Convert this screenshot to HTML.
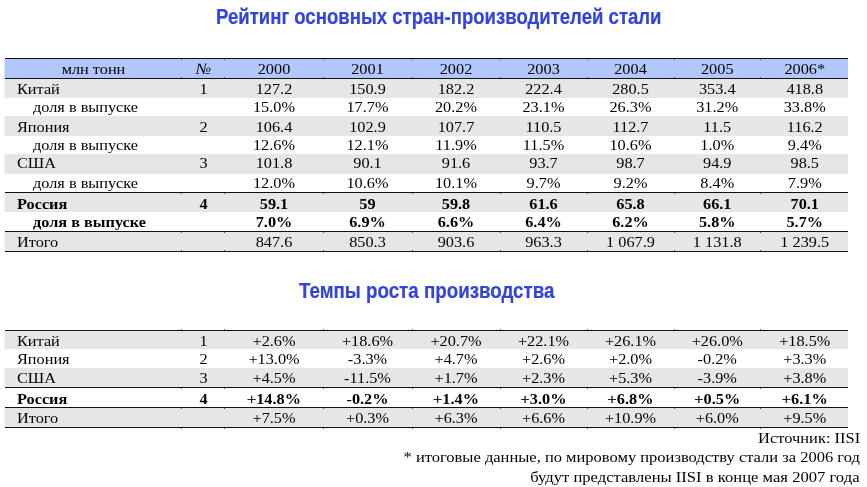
<!DOCTYPE html>
<html lang="ru"><head><meta charset="utf-8"><title>Рейтинг основных стран-производителей стали</title>
<style>
html,body{margin:0;padding:0;background:#fff;}
body{width:867px;height:487px;position:relative;overflow:hidden;font-family:"Liberation Serif","DejaVu Serif",serif;font-size:15.5px;color:#000;}
#w{position:absolute;left:0;top:0;width:867px;height:487px;will-change:transform;}
.bg{position:absolute;left:4.7px;width:843.2px;}
.r{position:absolute;left:5px;width:843px;height:18px;line-height:18px;white-space:nowrap;}
.r.b{font-weight:bold;}
.r em{font-style:italic;}
.r i{font-style:normal;font-weight:normal;-webkit-text-stroke:0.3px #000;}
.c{position:absolute;top:0;text-align:center;transform:scaleX(1.05);transform-origin:50% 50%;}
.c.l{text-align:left;transform-origin:0 50%;}
.ln{position:absolute;left:4.7px;width:843.2px;background:#111;}
.tk{position:absolute;width:1px;height:1px;background:rgba(0,0,0,.6);}
.h{position:absolute;white-space:nowrap;font-family:"Liberation Sans","DejaVu Sans",sans-serif;font-weight:bold;font-size:22.2px;line-height:24px;color:#3344dd;-webkit-text-stroke:0.2px #3344dd;transform-origin:0 0;}
.f{position:absolute;right:7px;white-space:nowrap;text-align:right;line-height:19.5px;transform:scaleX(1.062);transform-origin:100% 50%;}
</style></head><body><div id="w">
<div class="h" id="h1" style="left:215.9px;top:4.5px;transform:scaleX(0.8368)">Рейтинг основных стран-производителей стали</div>
<div class="h" id="h2" style="left:299.2px;top:278.6px;transform:scaleX(0.8444)">Темпы роста производства</div>
<div class="bg" style="top:58.5px;height:20.0px;background:#b3c7ff;box-shadow:-1px 0 0 #dbe4ff"></div>
<div class="bg" style="top:78.5px;height:19.1px;background:#e6e6e6;box-shadow:-1px 0 0 #f3f3f3"></div>
<div class="bg" style="top:116.4px;height:19.5px;background:#e6e6e6;box-shadow:-1px 0 0 #f3f3f3"></div>
<div class="bg" style="top:154px;height:20px;background:#e6e6e6;box-shadow:-1px 0 0 #f3f3f3"></div>
<div class="bg" style="top:192.5px;height:19.5px;background:#e6e6e6;box-shadow:-1px 0 0 #f3f3f3"></div>
<div class="bg" style="top:231.5px;height:20.0px;background:#e6e6e6;box-shadow:-1px 0 0 #f3f3f3"></div>
<div class="bg" style="top:330.5px;height:18.9px;background:#e6e6e6;box-shadow:-1px 0 0 #f3f3f3"></div>
<div class="bg" style="top:368.4px;height:19.1px;background:#e6e6e6;box-shadow:-1px 0 0 #f3f3f3"></div>
<div class="bg" style="top:407.5px;height:20.0px;background:#e6e6e6;box-shadow:-1px 0 0 #f3f3f3"></div>
<div class="ln" style="top:58px;height:1px"></div>
<div class="ln" style="top:78px;height:1px"></div>
<div class="ln" style="top:192px;height:1px"></div>
<div class="ln" style="top:231px;height:1px"></div>
<div class="ln" style="top:251px;height:1px"></div>
<div class="ln" style="top:330px;height:1px"></div>
<div class="ln" style="top:387px;height:1px"></div>
<div class="ln" style="top:407px;height:1px"></div>
<div class="ln" style="top:427px;height:1px"></div>
<div class="tk" style="left:180.8px;top:59px"></div>
<div class="tk" style="left:224.2px;top:59px"></div>
<div class="tk" style="left:322.5px;top:59px"></div>
<div class="tk" style="left:411.5px;top:59px"></div>
<div class="tk" style="left:499.5px;top:59px"></div>
<div class="tk" style="left:586.5px;top:59px"></div>
<div class="tk" style="left:673.5px;top:59px"></div>
<div class="tk" style="left:760.0px;top:59px"></div>
<div class="tk" style="left:180.8px;top:77px"></div>
<div class="tk" style="left:224.2px;top:77px"></div>
<div class="tk" style="left:322.5px;top:77px"></div>
<div class="tk" style="left:411.5px;top:77px"></div>
<div class="tk" style="left:499.5px;top:77px"></div>
<div class="tk" style="left:586.5px;top:77px"></div>
<div class="tk" style="left:673.5px;top:77px"></div>
<div class="tk" style="left:760.0px;top:77px"></div>
<div class="tk" style="left:180.8px;top:193px"></div>
<div class="tk" style="left:224.2px;top:193px"></div>
<div class="tk" style="left:322.5px;top:193px"></div>
<div class="tk" style="left:411.5px;top:193px"></div>
<div class="tk" style="left:499.5px;top:193px"></div>
<div class="tk" style="left:586.5px;top:193px"></div>
<div class="tk" style="left:673.5px;top:193px"></div>
<div class="tk" style="left:760.0px;top:193px"></div>
<div class="tk" style="left:180.8px;top:232px"></div>
<div class="tk" style="left:224.2px;top:232px"></div>
<div class="tk" style="left:322.5px;top:232px"></div>
<div class="tk" style="left:411.5px;top:232px"></div>
<div class="tk" style="left:499.5px;top:232px"></div>
<div class="tk" style="left:586.5px;top:232px"></div>
<div class="tk" style="left:673.5px;top:232px"></div>
<div class="tk" style="left:760.0px;top:232px"></div>
<div class="tk" style="left:180.8px;top:250px"></div>
<div class="tk" style="left:224.2px;top:250px"></div>
<div class="tk" style="left:322.5px;top:250px"></div>
<div class="tk" style="left:411.5px;top:250px"></div>
<div class="tk" style="left:499.5px;top:250px"></div>
<div class="tk" style="left:586.5px;top:250px"></div>
<div class="tk" style="left:673.5px;top:250px"></div>
<div class="tk" style="left:760.0px;top:250px"></div>
<div class="tk" style="left:180.8px;top:329px"></div>
<div class="tk" style="left:224.2px;top:329px"></div>
<div class="tk" style="left:322.5px;top:329px"></div>
<div class="tk" style="left:411.5px;top:329px"></div>
<div class="tk" style="left:499.5px;top:329px"></div>
<div class="tk" style="left:586.5px;top:329px"></div>
<div class="tk" style="left:673.5px;top:329px"></div>
<div class="tk" style="left:760.0px;top:329px"></div>
<div class="tk" style="left:180.8px;top:388px"></div>
<div class="tk" style="left:224.2px;top:388px"></div>
<div class="tk" style="left:322.5px;top:388px"></div>
<div class="tk" style="left:411.5px;top:388px"></div>
<div class="tk" style="left:499.5px;top:388px"></div>
<div class="tk" style="left:586.5px;top:388px"></div>
<div class="tk" style="left:673.5px;top:388px"></div>
<div class="tk" style="left:760.0px;top:388px"></div>
<div class="tk" style="left:180.8px;top:408px"></div>
<div class="tk" style="left:224.2px;top:408px"></div>
<div class="tk" style="left:322.5px;top:408px"></div>
<div class="tk" style="left:411.5px;top:408px"></div>
<div class="tk" style="left:499.5px;top:408px"></div>
<div class="tk" style="left:586.5px;top:408px"></div>
<div class="tk" style="left:673.5px;top:408px"></div>
<div class="tk" style="left:760.0px;top:408px"></div>
<div class="tk" style="left:180.8px;top:428px"></div>
<div class="tk" style="left:224.2px;top:428px"></div>
<div class="tk" style="left:322.5px;top:428px"></div>
<div class="tk" style="left:411.5px;top:428px"></div>
<div class="tk" style="left:499.5px;top:428px"></div>
<div class="tk" style="left:586.5px;top:428px"></div>
<div class="tk" style="left:673.5px;top:428px"></div>
<div class="tk" style="left:760.0px;top:428px"></div>
<div class="r" style="top:59.87px"><span class="c" style="left:0px;width:177px">млн тонн</span><span class="c" style="left:177px;width:43px"><em>№</em></span><span class="c" style="left:220px;width:98px">2000</span><span class="c" style="left:318px;width:89px">2001</span><span class="c" style="left:407px;width:88px">2002</span><span class="c" style="left:495px;width:87px">2003</span><span class="c" style="left:582px;width:87px">2004</span><span class="c" style="left:669px;width:86.5px">2005</span><span class="c" style="left:755.5px;width:87.5px">2006*</span></div>
<div class="r" style="top:79.87px"><span class="c l" style="left:12.0px">Китай</span><span class="c" style="left:177px;width:43px">1</span><span class="c" style="left:220px;width:98px">127.2</span><span class="c" style="left:318px;width:89px">150.9</span><span class="c" style="left:407px;width:88px">182.2</span><span class="c" style="left:495px;width:87px">222.4</span><span class="c" style="left:582px;width:87px">280.5</span><span class="c" style="left:669px;width:86.5px">353.4</span><span class="c" style="left:755.5px;width:87.5px">418.8</span></div>
<div class="r" style="top:97.87px"><span class="c l" style="left:28.0px">доля в выпуске</span><span class="c" style="left:220px;width:98px">15.0%</span><span class="c" style="left:318px;width:89px">17.7%</span><span class="c" style="left:407px;width:88px">20.2%</span><span class="c" style="left:495px;width:87px">23.1%</span><span class="c" style="left:582px;width:87px">26.3%</span><span class="c" style="left:669px;width:86.5px">31.2%</span><span class="c" style="left:755.5px;width:87.5px">33.8%</span></div>
<div class="r" style="top:117.77px"><span class="c l" style="left:12.0px">Япония</span><span class="c" style="left:177px;width:43px">2</span><span class="c" style="left:220px;width:98px">106.4</span><span class="c" style="left:318px;width:89px">102.9</span><span class="c" style="left:407px;width:88px">107.7</span><span class="c" style="left:495px;width:87px">110.5</span><span class="c" style="left:582px;width:87px">112.7</span><span class="c" style="left:669px;width:86.5px">11.5</span><span class="c" style="left:755.5px;width:87.5px">116.2</span></div>
<div class="r" style="top:136.02px"><span class="c l" style="left:28.0px">доля в выпуске</span><span class="c" style="left:220px;width:98px">12.6%</span><span class="c" style="left:318px;width:89px">12.1%</span><span class="c" style="left:407px;width:88px">11.9%</span><span class="c" style="left:495px;width:87px">11.5%</span><span class="c" style="left:582px;width:87px">10.6%</span><span class="c" style="left:669px;width:86.5px">1.0%</span><span class="c" style="left:755.5px;width:87.5px">9.4%</span></div>
<div class="r" style="top:154.27px"><span class="c l" style="left:12.0px">США</span><span class="c" style="left:177px;width:43px">3</span><span class="c" style="left:220px;width:98px">101.8</span><span class="c" style="left:318px;width:89px">90.1</span><span class="c" style="left:407px;width:88px">91.6</span><span class="c" style="left:495px;width:87px">93.7</span><span class="c" style="left:582px;width:87px">98.7</span><span class="c" style="left:669px;width:86.5px">94.9</span><span class="c" style="left:755.5px;width:87.5px">98.5</span></div>
<div class="r" style="top:173.77px"><span class="c l" style="left:28.0px">доля в выпуске</span><span class="c" style="left:220px;width:98px">12.0%</span><span class="c" style="left:318px;width:89px">10.6%</span><span class="c" style="left:407px;width:88px">10.1%</span><span class="c" style="left:495px;width:87px">9.7%</span><span class="c" style="left:582px;width:87px">9.2%</span><span class="c" style="left:669px;width:86.5px">8.4%</span><span class="c" style="left:755.5px;width:87.5px">7.9%</span></div>
<div class="r b" style="top:194.77px"><span class="c l" style="left:12.0px">Россия</span><span class="c" style="left:177px;width:43px">4</span><span class="c" style="left:220px;width:98px">59.1</span><span class="c" style="left:318px;width:89px">59</span><span class="c" style="left:407px;width:88px">59.8</span><span class="c" style="left:495px;width:87px">61.6</span><span class="c" style="left:582px;width:87px">65.8</span><span class="c" style="left:669px;width:86.5px">66.1</span><span class="c" style="left:755.5px;width:87.5px">70.1</span></div>
<div class="r b" style="top:212.57px"><span class="c l" style="left:28.0px">доля в выпуске</span><span class="c" style="left:220px;width:98px">7.0%</span><span class="c" style="left:318px;width:89px">6.9%</span><span class="c" style="left:407px;width:88px">6.6%</span><span class="c" style="left:495px;width:87px">6.4%</span><span class="c" style="left:582px;width:87px">6.2%</span><span class="c" style="left:669px;width:86.5px">5.8%</span><span class="c" style="left:755.5px;width:87.5px">5.7%</span></div>
<div class="r" style="top:232.77px"><span class="c l" style="left:12.0px">Итого</span><span class="c" style="left:220px;width:98px">847.6</span><span class="c" style="left:318px;width:89px">850.3</span><span class="c" style="left:407px;width:88px">903.6</span><span class="c" style="left:495px;width:87px">963.3</span><span class="c" style="left:582px;width:87px">1 067.9</span><span class="c" style="left:669px;width:86.5px">1 131.8</span><span class="c" style="left:755.5px;width:87.5px">1 239.5</span></div>
<div class="r" style="top:331.87px"><span class="c l" style="left:12.0px">Китай</span><span class="c" style="left:177px;width:43px">1</span><span class="c" style="left:220px;width:98px">+2.6%</span><span class="c" style="left:318px;width:89px">+18.6%</span><span class="c" style="left:407px;width:88px">+20.7%</span><span class="c" style="left:495px;width:87px">+22.1%</span><span class="c" style="left:582px;width:87px">+26.1%</span><span class="c" style="left:669px;width:86.5px">+26.0%</span><span class="c" style="left:755.5px;width:87.5px">+18.5%</span></div>
<div class="r" style="top:349.87px"><span class="c l" style="left:12.0px">Япония</span><span class="c" style="left:177px;width:43px">2</span><span class="c" style="left:220px;width:98px">+13.0%</span><span class="c" style="left:318px;width:89px">-3.3%</span><span class="c" style="left:407px;width:88px">+4.7%</span><span class="c" style="left:495px;width:87px">+2.6%</span><span class="c" style="left:582px;width:87px">+2.0%</span><span class="c" style="left:669px;width:86.5px">-0.2%</span><span class="c" style="left:755.5px;width:87.5px">+3.3%</span></div>
<div class="r" style="top:368.87px"><span class="c l" style="left:12.0px">США</span><span class="c" style="left:177px;width:43px">3</span><span class="c" style="left:220px;width:98px">+4.5%</span><span class="c" style="left:318px;width:89px">-11.5%</span><span class="c" style="left:407px;width:88px">+1.7%</span><span class="c" style="left:495px;width:87px">+2.3%</span><span class="c" style="left:582px;width:87px">+5.3%</span><span class="c" style="left:669px;width:86.5px">-3.9%</span><span class="c" style="left:755.5px;width:87.5px">+3.8%</span></div>
<div class="r b" style="top:389.77px"><span class="c l" style="left:12.0px">Россия</span><span class="c" style="left:177px;width:43px">4</span><span class="c" style="left:220px;width:98px"><i>+</i>14.8%</span><span class="c" style="left:318px;width:89px">-0.2%</span><span class="c" style="left:407px;width:88px"><i>+</i>1.4%</span><span class="c" style="left:495px;width:87px"><i>+</i>3.0%</span><span class="c" style="left:582px;width:87px"><i>+</i>6.8%</span><span class="c" style="left:669px;width:86.5px"><i>+</i>0.5%</span><span class="c" style="left:755.5px;width:87.5px"><i>+</i>6.1%</span></div>
<div class="r" style="top:408.87px"><span class="c l" style="left:12.0px">Итого</span><span class="c" style="left:220px;width:98px">+7.5%</span><span class="c" style="left:318px;width:89px">+0.3%</span><span class="c" style="left:407px;width:88px">+6.3%</span><span class="c" style="left:495px;width:87px">+6.6%</span><span class="c" style="left:582px;width:87px">+10.9%</span><span class="c" style="left:669px;width:86.5px">+6.0%</span><span class="c" style="left:755.5px;width:87.5px">+9.5%</span></div>
<div class="f" style="top:427.5px">Источник: IISI</div>
<div class="f" style="top:447px;transform:scaleX(1.064)">* итоговые данные, по мировому производству стали за 2006 год</div>
<div class="f" style="top:466.5px;transform:scaleX(1.071)">будут представлены IISI в конце мая 2007 года</div>
</div></body></html>
